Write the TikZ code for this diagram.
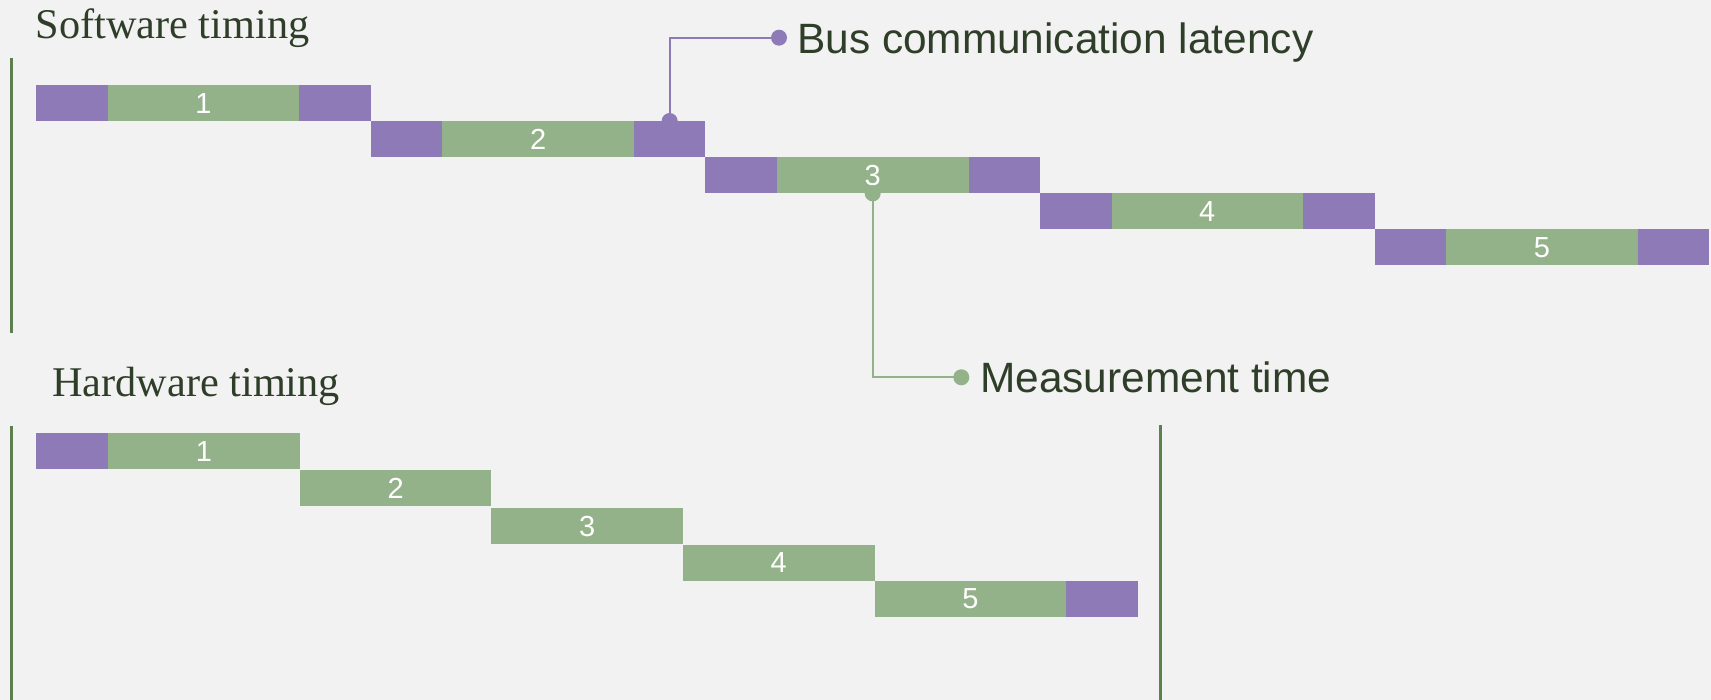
\documentclass[tikz,border=0pt]{standalone}
\usepackage{fontspec}
\setmainfont{Liberation Sans}
\newfontfamily\titlefont{Liberation Serif}
\usepackage{xcolor}
\definecolor{tbg}{HTML}{F2F2F2}
\definecolor{tpurple}{HTML}{8F7AB8}
\definecolor{tgreen}{HTML}{94B28A}
\definecolor{tline}{HTML}{5E8050}
\definecolor{ttext}{HTML}{2F3E29}

\begin{document}
\begin{tikzpicture}[x=1pt, y=-1pt,
		blk/.style={anchor=north west, inner sep=0pt, minimum height=36pt},
		lat/.style={blk, fill=tpurple, minimum width=71.5pt},
		meas/.style={blk, fill=tgreen, minimum width=191.6pt, text=white, font=\fontsize{29}{29}\selectfont},
		axis/.style={color=tline, line width=2.7pt},
		callout/.style={line width=2pt},
		heading/.style={anchor=base west, inner sep=0pt, text=ttext, font=\fontsize{42.3}{42.3}\titlefont},
		tag/.style={anchor=base west, inner sep=0pt, text=ttext, font=\fontsize{42.4}{42.4}\selectfont}]
		\fill[tbg] (0,0) rectangle (1711,700);
		\useasboundingbox (0,0) rectangle (1711,700);
		% software timing
		\node[heading] (swtitle) at (35.5,38.3) {Software timing};
		\draw[axis] (11.5,58) -- (11.5,333);
		\node[lat] (sa1) at (36,85) {};
		\node[meas] (sw1) at (107.5,85) {1};
		\node[lat] (sb1) at (299.1,85) {};
		\node[lat] (sa2) at (370.6,121) {};
		\node[meas] (sw2) at (442.1,121) {2};
		\node[lat] (sb2) at (633.7,121) {};
		\node[lat] (sa3) at (705.2,157) {};
		\node[meas] (sw3) at (776.7,157) {3};
		\node[lat] (sb3) at (968.3,157) {};
		\node[lat] (sa4) at (1039.8,193) {};
		\node[meas] (sw4) at (1111.3,193) {4};
		\node[lat] (sb4) at (1302.9,193) {};
		\node[lat] (sa5) at (1374.4,229) {};
		\node[meas] (sw5) at (1445.9,229) {5};
		\node[lat] (sb5) at (1637.5,229) {};
		% hardware timing
		\node[heading] (hwtitle) at (52,396.7) {Hardware timing};
		\draw[axis] (11.5,426) -- (11.5,700);
		\draw[axis] (1160.3,425.5) -- (1160.3,700);
		\node[lat, minimum width=72pt] (ha) at (36,433) {};
		\node[meas] (hw1) at (108,433) {1};
		\node[meas] (hw2) at (299.6,470) {2};
		\node[meas] (hw3) at (491.2,508) {3};
		\node[meas] (hw4) at (682.8,544.5) {4};
		\node[meas] (hw5) at (874.4,580.5) {5};
		\node[lat, minimum width=72pt] (hb) at (1066,580.5) {};
		% callouts
		\node[tag] (bus) at (797,53.5) {Bus communication latency};
		\coordinate (busdot) at (779,37.7);
		\draw[callout, color=tpurple] (sb2.north) |- (busdot);
		\fill[tpurple] (sb2.north) circle (8pt);
		\fill[tpurple] (busdot) circle (8pt);
		\node[tag] (mtime) at (980,392.5) {Measurement time};
		\coordinate (measdot) at (961.3,377.3);
		\draw[callout, color=tgreen] (sw3.south) |- (measdot);
		\fill[tgreen] (sw3.south) circle (8pt);
		\fill[tgreen] (measdot) circle (8pt);
	\end{tikzpicture}
\end{document}
